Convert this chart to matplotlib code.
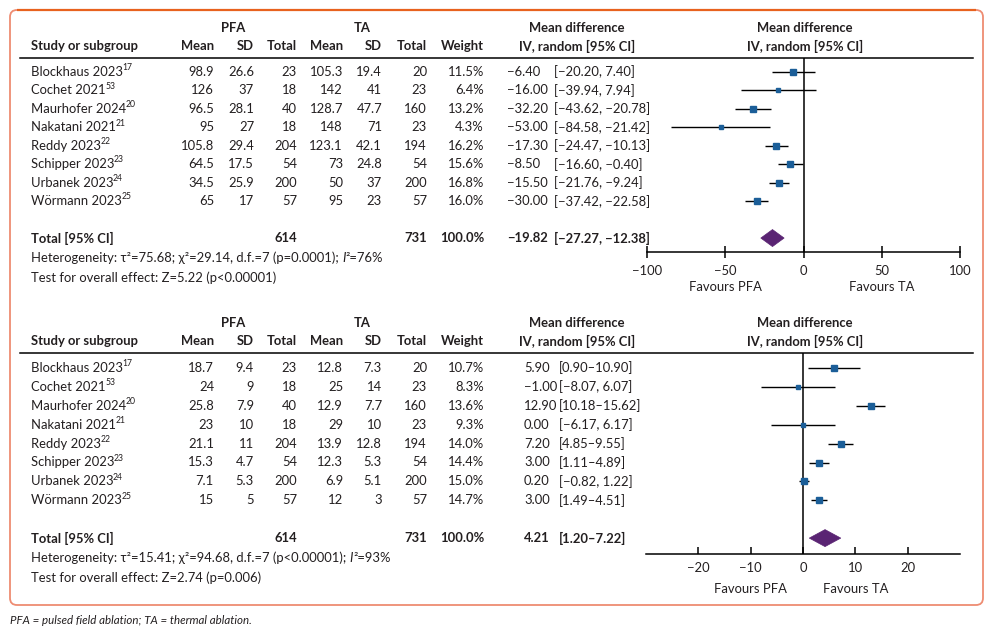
import matplotlib
matplotlib.use("Agg")
import matplotlib.pyplot as plt
from matplotlib.patches import FancyBboxPatch, Polygon
from matplotlib.transforms import blended_transform_factory

plt.rcParams['font.family'] = ['Lato', 'DejaVu Sans']

# ---------------- data ----------------
studies = ["Blockhaus 2023", "Cochet 2021", "Maurhofer 2024", "Nakatani 2021",
           "Reddy 2023", "Schipper 2023", "Urbanek 2023", "Wörmann 2023"]
refs = ["17", "53", "20", "21", "22", "23", "24", "25"]

pfa_n = [23, 18, 40, 18, 204, 54, 200, 57]
ta_n = [20, 23, 160, 23, 194, 54, 200, 57]
total_n = [614, 731]

# Panel 1
p1_pfa_mean = [98.9, 126, 96.5, 95, 105.8, 64.5, 34.5, 65]
p1_pfa_sd = [26.6, 37, 28.1, 27, 29.4, 17.5, 25.9, 17]
p1_ta_mean = [105.3, 142, 128.7, 148, 123.1, 73, 50, 95]
p1_ta_sd = [19.4, 41, 47.7, 71, 42.1, 24.8, 37, 23]
p1_weight = [11.5, 6.4, 13.2, 4.3, 16.2, 15.6, 16.8, 16.0]
p1_md = [-6.40, -16.00, -32.20, -53.00, -17.30, -8.50, -15.50, -30.00]
p1_lo = [-20.20, -39.94, -43.62, -84.58, -24.47, -16.60, -21.76, -37.42]
p1_hi = [7.40, 7.94, -20.78, -21.42, -10.13, -0.40, -9.24, -22.58]
p1_total = [-19.82, -27.27, -12.38]
p1_het = ["Heterogeneity: τ²=75.68; χ²=29.14, d.f.=7 (p=0.0001); ", "I", "²=76%"]
p1_test = "Test for overall effect: Z=5.22 (p<0.00001)"
p1_ticks = [-100, -50, 0, 50, 100]
p1_xlim = [-100, 100]

# Panel 2
p2_pfa_mean = [18.7, 24, 25.8, 23, 21.1, 15.3, 7.1, 15]
p2_pfa_sd = [9.4, 9, 7.9, 10, 11, 4.7, 5.3, 5]
p2_ta_mean = [12.8, 25, 12.9, 29, 13.9, 12.3, 6.9, 12]
p2_ta_sd = [7.3, 14, 7.7, 10, 12.8, 5.3, 5.1, 3]
p2_weight = [10.7, 8.3, 13.6, 9.3, 14.0, 14.4, 15.0, 14.7]
p2_md = [5.90, -1.00, 12.90, 0.00, 7.20, 3.00, 0.20, 3.00]
p2_lo = [0.90, -8.07, 10.18, -6.17, 4.85, 1.11, -0.82, 1.49]
p2_hi = [10.90, 6.07, 15.62, 6.17, 9.55, 4.89, 1.22, 4.51]
p2_total = [4.21, 1.20, 7.22]
p2_het = ["Heterogeneity: τ²=15.41; χ²=94.68, d.f.=7 (p<0.00001); ", "I", "²=93%"]
p2_test = "Test for overall effect: Z=2.74 (p=0.006)"
p2_ticks = [-20, -10, 0, 10, 20]
p2_xlim = [-30, 30]

caption = "PFA = pulsed field ablation; TA = thermal ablation."

# ---------------- styling ----------------
W, H = 992, 634
TXT = "#231f20"
SQ = "#1b5e98"
DIA = "#5a2473"
FS = 9.4

fig = plt.figure(figsize=(W / 100, H / 100), dpi=100)
fig.patch.set_facecolor("white")
bg = fig.add_axes([0, 0, 1, 1])
bg.set_xlim(0, W)
bg.set_ylim(H, 0)
bg.axis("off")

box = FancyBboxPatch((10, 10), 973, 595, boxstyle="round,pad=0,rounding_size=7",
                     edgecolor="#ee8c72", facecolor="none", lw=1.3)
bg.add_patch(box)
bg.plot([17, 976], [10, 10], color="#e8621e", lw=1.6, solid_capstyle="butt")

bg.text(10, 621, caption, fontsize=8.3, style="italic", color=TXT, va="center", ha="left")


def fnum(v):
    return f"{v:g}"


def fmd(v):
    return f"{v:.2f}".replace("-", "−")


def fci(lo, hi):
    if lo < 0:
        return f"[{fmd(lo)}, {fmd(hi)}]"
    return f"[{fmd(lo)}–{fmd(hi)}]"


col_right = [214, 254, 297, 343, 382, 427, 484]


def panel(line_y, first_y, dy, axis_y, pfa_mean, pfa_sd, ta_mean, ta_sd, weight,
          md, lo, hi, total, het, test, ticks, xlim, x0, x1, est_x, ci_x, tick_dir, tick_len):
    kw = dict(fontsize=FS, color=TXT, va="center")
    # headers
    bg.text(233, line_y - 30, "PFA", ha="center", fontweight="bold", **kw)
    bg.text(362, line_y - 30, "TA", ha="center", fontweight="bold", **kw)
    bg.text(577, line_y - 30, "Mean difference", ha="center", fontweight="bold", **kw)
    bg.text(805, line_y - 30, "Mean difference", ha="center", fontweight="bold", **kw)
    hy = line_y - 12
    bg.text(31, hy, "Study or subgroup", ha="left", fontweight="bold", **kw)
    for x, lab in zip(col_right, ["Mean", "SD", "Total", "Mean", "SD", "Total", "Weight"]):
        bg.text(x, hy, lab, ha="right", fontweight="bold", **kw)
    bg.text(577, hy, "IV, random [95% CI]", ha="center", fontweight="bold", **kw)
    bg.text(805, hy, "IV, random [95% CI]", ha="center", fontweight="bold", **kw)
    bg.plot([20, 973], [line_y, line_y], color="black", lw=1.1)

    # forest axes
    axf = fig.add_axes([x0 / W, 1 - axis_y / H, (x1 - x0) / W, (axis_y - line_y) / H])
    axf.set_xlim(*xlim)
    axf.set_ylim(axis_y, line_y)
    axf.patch.set_alpha(0)
    for s in ["top", "left", "right"]:
        axf.spines[s].set_visible(False)
    axf.spines["bottom"].set_linewidth(1.1)
    axf.set_yticks([])
    axf.set_xticks(ticks)
    axf.tick_params(axis="x", direction=tick_dir, length=tick_len, width=1.1,
                    labelsize=FS, labelcolor=TXT, pad=5 if tick_dir == "inout" else 6)
    axf.axvline(0, color="black", lw=1.1)

    for i in range(len(studies)):
        y = first_y + i * dy
        t = bg.text(31, y, studies[i], ha="left", **kw)
        bg.annotate(refs[i], xy=(1.0, 0.0), xycoords=t, fontsize=6.2, color=TXT,
                    ha="left", va="baseline", xytext=(-0.4, 5.6), textcoords="offset points")
        vals = [fnum(pfa_mean[i]), fnum(pfa_sd[i]), str(pfa_n[i]), fnum(ta_mean[i]),
                fnum(ta_sd[i]), str(ta_n[i]), f"{weight[i]:.1f}%"]
        for x, v in zip(col_right, vals):
            bg.text(x, y, v, ha="right", **kw)
        bg.text(est_x, y, fmd(md[i]), ha="left", **kw)
        bg.text(ci_x, y, fci(lo[i], hi[i]), ha="left", **kw)
        axf.hlines(y, lo[i], hi[i], color="black", lw=1.0)
        axf.plot(md[i], y, "s", ms=1.6 + 0.2 * weight[i], color=SQ, mec=SQ)

    ty = first_y + 9 * dy
    bg.text(31, ty, "Total [95% CI]", ha="left", fontweight="bold", **kw)
    bg.text(col_right[2], ty, str(total_n[0]), ha="right", fontweight="bold", **kw)
    bg.text(col_right[5], ty, str(total_n[1]), ha="right", fontweight="bold", **kw)
    bg.text(col_right[6], ty, f"{sum(weight):.1f}%", ha="right", fontweight="bold", **kw)
    bg.text(est_x, ty, fmd(total[0]), ha="left", fontweight="bold", **kw)
    bg.text(ci_x, ty, fci(total[1], total[2]), ha="left", fontweight="bold", **kw)
    h = 8.5
    axf.add_patch(Polygon([(total[1], ty), (total[0], ty - h), (total[2], ty), (total[0], ty + h)],
                          closed=True, facecolor=DIA, edgecolor=DIA, lw=0.5))
    # heterogeneity line built from segments (italic I)
    t1 = bg.text(31, ty + 20, het[0], ha="left", **kw)
    t2 = bg.annotate(het[1], xy=(1, 0), xycoords=t1, ha="left", va="bottom",
                     fontsize=FS, color=TXT, style="italic")
    bg.annotate(het[2], xy=(1, 0), xycoords=t2, ha="left", va="bottom",
                fontsize=FS, color=TXT)
    bg.text(31, ty + 40, test, ha="left", **kw)

    tr = blended_transform_factory(axf.transData, bg.transData)
    bg.text(ticks[1], axis_y + 35, "Favours PFA", ha="center", transform=tr, **kw)
    bg.text(ticks[3], axis_y + 35, "Favours TA", ha="center", transform=tr, **kw)


panel(58, 72, 18.45, 252, p1_pfa_mean, p1_pfa_sd, p1_ta_mean, p1_ta_sd, p1_weight,
      p1_md, p1_lo, p1_hi, p1_total, p1_het, p1_test, p1_ticks, p1_xlim, 647, 960,
      507, 554, "inout", 9)
panel(353, 368, 18.9, 554, p2_pfa_mean, p2_pfa_sd, p2_ta_mean, p2_ta_sd, p2_weight,
      p2_md, p2_lo, p2_hi, p2_total, p2_het, p2_test, p2_ticks, p2_xlim, 646, 960,
      524, 559, "in", 5)

fig.savefig("out.png", dpi=100, facecolor="white")
